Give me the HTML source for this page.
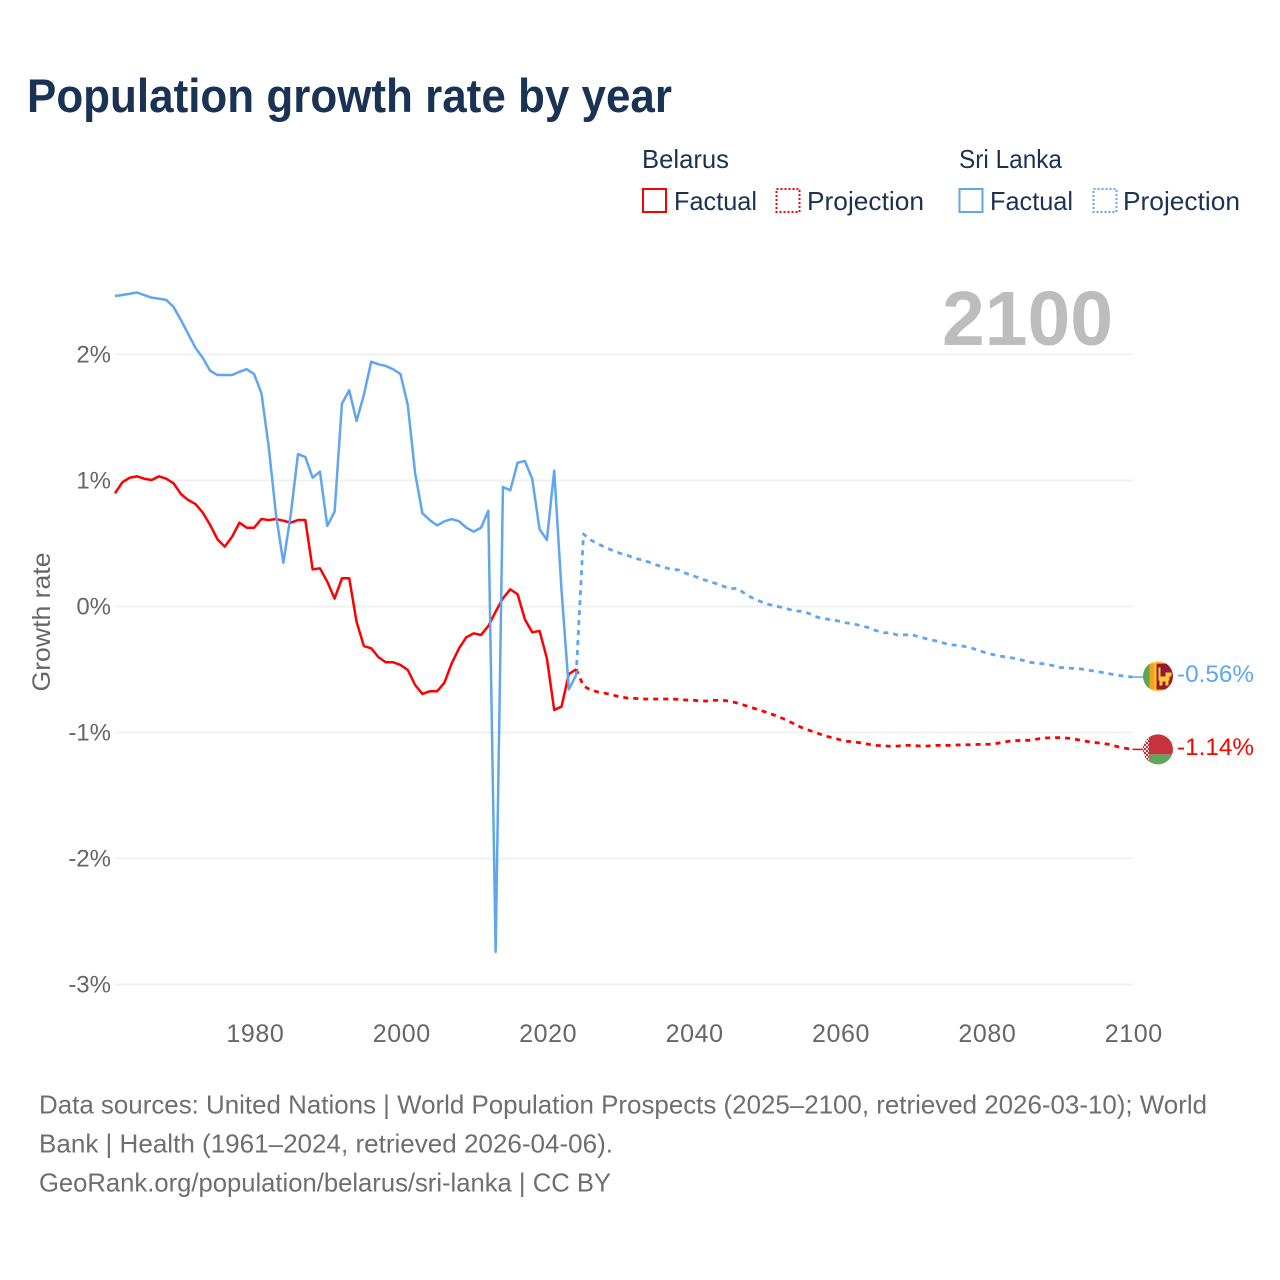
<!DOCTYPE html>
<html lang="en">
<head>
<meta charset="utf-8">
<title>Population growth rate by year</title>
<style>
html,body{margin:0;padding:0;background:#fff;}
svg{display:block;}
text{font-family:"Liberation Sans",sans-serif;}
</style>
</head>
<body>
<svg id="chart" xmlns="http://www.w3.org/2000/svg" width="1280" height="1280" viewBox="0 0 1280 1280">
  <defs>
    <clipPath id="clip-lk"><circle id="clip-lk-circle" cx="1158" cy="677" r="15"></circle></clipPath>
    <clipPath id="clip-by"><circle id="clip-by-circle" cx="1158" cy="750" r="15"></circle></clipPath>
    <pattern id="by-ornament" width="4" height="4" patternUnits="userSpaceOnUse"><rect width="4" height="4" fill="#f4e4e4"></rect><rect x="0" y="0" width="2" height="2" fill="#c8313e"></rect><rect x="2" y="2" width="2" height="2" fill="#c8313e"></rect></pattern>
  </defs>
  <rect width="1280" height="1280" fill="#fff"></rect>
  <text x="27" y="112" font-size="47" font-weight="700" fill="#1a3354" textLength="645" lengthAdjust="spacingAndGlyphs">Population growth rate by year</text>

  <g font-size="26" fill="#1a3354">
    <text x="642" y="168" textLength="87" lengthAdjust="spacingAndGlyphs">Belarus</text>
    <text x="959" y="168" textLength="103" lengthAdjust="spacingAndGlyphs">Sri Lanka</text>
    <rect x="643" y="189" width="23" height="23" fill="none" stroke="#ff0000" stroke-width="2"></rect>
    <text x="674" y="210" textLength="83" lengthAdjust="spacingAndGlyphs">Factual</text>
    <rect x="776.5" y="189" width="23" height="23" fill="none" stroke="#ff0000" stroke-width="2" stroke-dasharray="2 2"></rect>
    <text x="807" y="210" textLength="117" lengthAdjust="spacingAndGlyphs">Projection</text>
    <rect x="959.5" y="189" width="23" height="23" fill="none" stroke="#60a5f0" stroke-width="2"></rect>
    <text x="990" y="210" textLength="83" lengthAdjust="spacingAndGlyphs">Factual</text>
    <rect x="1093.5" y="189" width="23" height="23" fill="none" stroke="#60a5f0" stroke-width="2" stroke-dasharray="2 2"></rect>
    <text x="1123" y="210" textLength="117" lengthAdjust="spacingAndGlyphs">Projection</text>
  </g>

  <g id="grid"></g>
  <g id="y-ticks"></g>
  <g id="x-ticks"></g>
  <text transform="translate(50,622) rotate(-90)" text-anchor="middle" font-size="25" fill="#666" textLength="139" lengthAdjust="spacingAndGlyphs">Growth rate</text>
  <text x="1113" y="345" text-anchor="end" font-size="77" font-weight="700" fill="#bdbdbd" textLength="171" lengthAdjust="spacingAndGlyphs">2100</text>

  <g id="series"></g>

  <g id="flag-lk" clip-path="url(#clip-lk)"></g>
  <g id="flag-by" clip-path="url(#clip-by)"></g>
  <g id="end-labels"></g>

  <g font-size="26" fill="#6e6e6e">
    <text x="39" y="1113.5" textLength="1168" lengthAdjust="spacingAndGlyphs">Data sources: United Nations | World Population Prospects (2025–2100, retrieved 2026-03-10); World</text>
    <text x="39" y="1152.5" textLength="574" lengthAdjust="spacingAndGlyphs">Bank | Health (1961–2024, retrieved 2026-04-06).</text>
    <text x="39" y="1191.5" textLength="572" lengthAdjust="spacingAndGlyphs">GeoRank.org/population/belarus/sri-lanka | CC BY</text>
  </g>
</svg>
<script>
const factualStartYear = 1961;
const projectionStartYear = 2024;
const yTickValues = [2, 1, 0, -1, -2, -3];
const yTickLabels = ["2%", "1%", "0%", "-1%", "-2%", "-3%"];
const xTickYears = [1980, 2000, 2020, 2040, 2060, 2080, 2100];
const xTickLabels = ["1980", "2000", "2020", "2040", "2060", "2080", "2100"];
const endLabels = ["-0.56%", "-1.14%"];

const belarusFactual = [
  0.902,0.99,1.026,1.037,1.018,1.008,1.037,1.018,0.982,0.897,
  0.849,0.817,0.748,0.651,0.537,0.479,0.558,0.669,0.629,0.629,
  0.698,0.69,0.698,0.685,0.669,0.69,0.69,0.299,0.307,0.201,
  0.067,0.228,0.228,-0.117,-0.31,-0.328,-0.399,-0.439,-0.439,-0.46,
  -0.5,-0.619,-0.69,-0.669,-0.669,-0.601,-0.447,-0.328,-0.24,-0.209,
  -0.222,-0.151,-0.037,0.069,0.14,0.101,-0.098,-0.201,-0.19,-0.407,
  -0.817,-0.791,-0.532,-0.494
];
const sriLankaFactual = [
  2.468,2.476,2.486,2.496,2.476,2.455,2.447,2.437,2.381,2.278,
  2.167,2.056,1.976,1.875,1.841,1.841,1.841,1.867,1.887,1.849,
  1.698,1.27,0.73,0.352,0.73,1.214,1.19,1.026,1.074,0.643,
  0.756,1.613,1.72,1.476,1.683,1.947,1.926,1.913,1.887,1.849,
  1.603,1.061,0.744,0.69,0.648,0.68,0.698,0.68,0.629,0.598,
  0.629,0.764,-2.738,0.952,0.926,1.145,1.159,1.016,0.617,0.532,
  1.082,0.135,-0.653,-0.54
];
const belarusProjection = [
  -0.494,-0.627,-0.659,-0.675,-0.685,-0.698,-0.714,
  -0.722,-0.725,-0.73,-0.73,-0.73,-0.73,-0.73,-0.733,-0.738,-0.74,
  -0.746,-0.746,-0.74,-0.74,-0.748,-0.762,-0.78,-0.799,-0.817,-0.836,
  -0.857,-0.879,-0.905,-0.934,-0.963,-0.982,-1.002,-1.024,-1.037,-1.053,
  -1.066,-1.071,-1.079,-1.09,-1.098,-1.101,-1.106,-1.103,-1.098,-1.098,
  -1.103,-1.103,-1.098,-1.098,-1.098,-1.095,-1.093,-1.093,-1.09,-1.09,
  -1.087,-1.077,-1.066,-1.061,-1.058,-1.058,-1.048,-1.04,-1.037,-1.037,
  -1.04,-1.048,-1.058,-1.069,-1.077,-1.082,-1.093,-1.109,-1.121,-1.13
];
const sriLankaProjection = [
  -0.54,0.579,0.532,0.5,0.474,0.447,0.426,
  0.41,0.387,0.373,0.355,0.333,0.315,0.299,0.294,0.267,0.248,
  0.225,0.206,0.188,0.167,0.145,0.148,0.109,0.074,0.048,0.026,
  0.01,-0.002,-0.018,-0.032,-0.034,-0.056,-0.082,-0.093,-0.103,-0.113,
  -0.127,-0.135,-0.151,-0.164,-0.188,-0.204,-0.206,-0.225,-0.22,-0.222,
  -0.24,-0.254,-0.267,-0.283,-0.299,-0.304,-0.312,-0.325,-0.347,-0.363,
  -0.379,-0.391,-0.397,-0.41,-0.423,-0.439,-0.447,-0.452,-0.463,-0.479,
  -0.484,-0.487,-0.492,-0.502,-0.51,-0.521,-0.532,-0.542,-0.55,-0.556
];

const SVG_NS = "http://www.w3.org/2000/svg";
const RED = "#ff0000";
const BLUE = "#60a5f0";
function xScale(year) { return 115 + (year - 1961) * 7.32; }
function yScale(value) { return 607 - value * 126; }
function make(tag, attrs, parent) {
  const el = document.createElementNS(SVG_NS, tag);
  for (const k in attrs) el.setAttribute(k, attrs[k]);
  parent.appendChild(el);
  return el;
}
function pathFor(values, startYear) {
  return values.map(function (v, i) {
    return (i ? "L" : "M") + xScale(startYear + i).toFixed(2) + " " + yScale(v).toFixed(2);
  }).join("");
}

const gridLayer = document.getElementById("grid");
const yTickLayer = document.getElementById("y-ticks");
yTickValues.forEach(function (v, i) {
  const line = make("line", { x1: 115, x2: 1133, y1: yScale(v) - 0.5, y2: yScale(v) - 0.5, stroke: "#f0f0f0", "stroke-width": 2 }, gridLayer);
  
  
  const t = make("text", { x: 111, y: yScale(v) + 7.5, "text-anchor": "end", "font-size": 24, fill: "#666" }, yTickLayer);
  t.textContent = yTickLabels[i];
  
  
});

const xTickLayer = document.getElementById("x-ticks");
xTickYears.forEach(function (year, i) {
  const t = make("text", { x: xScale(year) + 1.3, y: 1042, "text-anchor": "middle", "font-size": 25, "letter-spacing": 0.6, fill: "#666" }, xTickLayer);
  t.textContent = xTickLabels[i];
  
  
});

const seriesLayer = document.getElementById("series");
function drawLine(values, startYear, color, dashed, name) {
  const attrs = { d: pathFor(values, startYear), fill: "none", stroke: color, "stroke-width": 2.5, "stroke-linejoin": "round" };
  if (dashed) {
    attrs["stroke-dasharray"] = "5 5";
    attrs["stroke-width"] = 2.8;
  }
  const p = make("path", attrs, seriesLayer);
  
  
}
drawLine(belarusProjection, projectionStartYear, RED, true, "belarus-projection-line");
drawLine(sriLankaProjection, projectionStartYear, BLUE, true, "sri-lanka-projection-line");
drawLine(belarusFactual, factualStartYear, RED, false, "belarus-factual-line");
drawLine(sriLankaFactual, factualStartYear, BLUE, false, "sri-lanka-factual-line");

const endX = xScale(projectionStartYear + sriLankaProjection.length - 1);
const lkEndY = yScale(sriLankaProjection[sriLankaProjection.length - 1]);
const byEndY = yScale(belarusProjection[belarusProjection.length - 1]);
const flagX = endX + 25.5;

const lkLeader = make("line", { x1: endX, x2: flagX - 15, y1: lkEndY, y2: lkEndY, stroke: BLUE, "stroke-width": 1.5 }, seriesLayer);


const byLeader = make("line", { x1: endX, x2: flagX - 15, y1: byEndY, y2: byEndY, stroke: RED, "stroke-width": 1.5 }, seriesLayer);



const clipLk = document.getElementById("clip-lk-circle");
clipLk.setAttribute("cx", flagX);
clipLk.setAttribute("cy", lkEndY - 0.8);
const clipBy = document.getElementById("clip-by-circle");
clipBy.setAttribute("cx", flagX);
clipBy.setAttribute("cy", byEndY);

const flagLk = document.getElementById("flag-lk");
const lkTop = lkEndY - 16.5;
const lkLeft = flagX - 15.5;
make("rect", { x: lkLeft, y: lkTop, width: 32, height: 32, fill: "#ffc83d" }, flagLk);
make("rect", { x: lkLeft, y: lkTop + 3, width: 7, height: 26, fill: "#5da84f" }, flagLk);
make("rect", { x: lkLeft + 7, y: lkTop + 3, width: 5, height: 26, fill: "#f7a01d" }, flagLk);
make("rect", { x: lkLeft + 14, y: lkTop + 3, width: 18, height: 26, fill: "#971b2f" }, flagLk);
make("path", { d: "M" + (lkLeft + 16) + " " + (lkTop + 7) + "h2v9h5v-4h6v4h-2v4h-1v5h-3v-4h-3v4h-3v-5h-1z", fill: "#ffc83d" }, flagLk);

const flagBy = document.getElementById("flag-by");
const byTop = byEndY - 16;
const byLeft = flagX - 16;
make("rect", { x: byLeft, y: byTop, width: 32, height: 21, fill: "#c8313e" }, flagBy);
make("rect", { x: byLeft, y: byTop + 21, width: 32, height: 11, fill: "#5fa55a" }, flagBy);
make("rect", { x: byLeft, y: byTop, width: 7, height: 32, fill: "url(#by-ornament)" }, flagBy);

const labelLayer = document.getElementById("end-labels");
const lkLabel = make("text", { x: 1254, y: lkEndY + 5, "text-anchor": "end", "font-size": 24, fill: BLUE, textLength: 77, lengthAdjust: "spacingAndGlyphs" }, labelLayer);
lkLabel.textContent = endLabels[0];


const byLabel = make("text", { x: 1254, y: byEndY + 5.5, "text-anchor": "end", "font-size": 24, fill: RED, textLength: 77, lengthAdjust: "spacingAndGlyphs" }, labelLayer);
byLabel.textContent = endLabels[1];


</script>
</body>
</html>
